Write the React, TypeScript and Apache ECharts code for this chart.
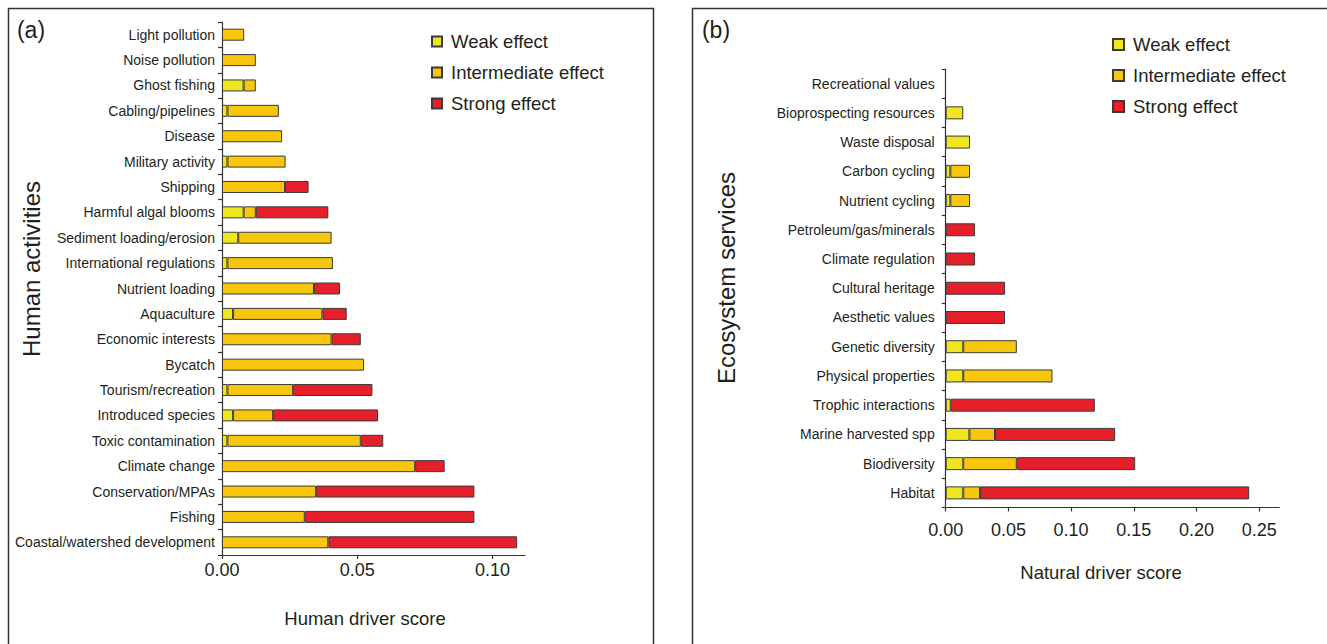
import React, { useEffect, useRef } from "react";
import * as echarts from "echarts";

const humanCategories = [
  "Light pollution", "Noise pollution", "Ghost fishing", "Cabling/pipelines", "Disease",
  "Military activity", "Shipping", "Harmful algal blooms", "Sediment loading/erosion",
  "International regulations", "Nutrient loading", "Aquaculture", "Economic interests",
  "Bycatch", "Tourism/recreation", "Introduced species", "Toxic contamination",
  "Climate change", "Conservation/MPAs", "Fishing", "Coastal/watershed development",
];
const humanWeak = [0, 0, 0.008, 0.002, 0, 0.002, 0, 0.008, 0.006, 0.002, 0, 0.0041, 0, 0, 0.002, 0.0041, 0.002, 0, 0, 0, 0];
const humanIntermediate = [0.0082, 0.0125, 0.0045, 0.019, 0.0222, 0.0215, 0.0233, 0.0045, 0.0345, 0.039, 0.034, 0.033, 0.0405, 0.0525, 0.0243, 0.0148, 0.0493, 0.0714, 0.0348, 0.0306, 0.0393];
const humanStrong = [0, 0, 0, 0, 0, 0, 0.0087, 0.0268, 0, 0, 0.0096, 0.009, 0.0108, 0, 0.0293, 0.0388, 0.0083, 0.0109, 0.0585, 0.0627, 0.0698];

const naturalCategories = [
  "Recreational values", "Bioprospecting resources", "Waste disposal", "Carbon cycling",
  "Nutrient cycling", "Petroleum/gas/minerals", "Climate regulation", "Cultural heritage",
  "Aesthetic values", "Genetic diversity", "Physical properties", "Trophic interactions",
  "Marine harvested spp", "Biodiversity", "Habitat",
];
const naturalWeak = [0, 0.014, 0.0194, 0.0037, 0.0037, 0, 0, 0, 0, 0.014, 0.014, 0.004, 0.0189, 0.014, 0.014];
const naturalIntermediate = [0, 0, 0, 0.0157, 0.0157, 0, 0, 0, 0, 0.0427, 0.0711, 0, 0.0204, 0.0427, 0.0134];
const naturalStrong = [0, 0, 0, 0, 0, 0.0234, 0.0234, 0.0473, 0.0473, 0, 0, 0.1149, 0.0958, 0.0944, 0.2146];

const humanTicks = [0, 0.05, 0.1];
const naturalTicks = [0, 0.05, 0.1, 0.15, 0.2, 0.25];

const effectNames = ["Weak effect", "Intermediate effect", "Strong effect"];
const effectColors = ["#EFE61E", "#F8C60C", "#E6202A"];

const FONT = "'Liberation Sans', Arial, Helvetica, sans-serif";
const TEXT = "#231f20";
const AXIS = "#333333";

export default function App() {
  const ref = useRef<HTMLDivElement>(null);

  useEffect(() => {
    if (!ref.current) return;
    const chart = echarts.init(ref.current, null, { renderer: "svg" });

    const clean = (arr: number[]) => arr.map((v) => (v === 0 ? null : v));
    const mkSeries = (vals: number[][], axisIdx: number, stack: string, width: number) =>
      vals.map((v, i) => ({
        name: effectNames[i],
        type: "bar",
        stack,
        xAxisIndex: axisIdx,
        yAxisIndex: axisIdx,
        barWidth: width,
        data: clean(v),
        itemStyle: { color: effectColors[i], borderColor: "#3a3a3a", borderWidth: 1 },
        emphasis: { disabled: true },
      }));

    const valueAxis = (idx: number, max: number, ticks: number[], margin: number) => ({
      type: "value",
      gridIndex: idx,
      min: 0,
      max,
      splitLine: { show: false },
      axisLine: { show: true, lineStyle: { color: AXIS, width: 1.2 } },
      axisTick: { show: true, length: 4, lineStyle: { color: AXIS, width: 1.2 }, customValues: ticks },
      axisLabel: {
        customValues: ticks,
        formatter: (v: number) => v.toFixed(2),
        fontSize: 18,
        fontFamily: FONT,
        color: TEXT,
        margin,
      },
    });

    const catAxis = (idx: number, data: string[], margin: number) => ({
      type: "category",
      gridIndex: idx,
      data,
      inverse: true,
      axisLine: { show: true, lineStyle: { color: AXIS, width: 1.2 } },
      axisTick: { show: true, length: 4, lineStyle: { color: AXIS, width: 1.2 } },
      axisLabel: { fontSize: 14, fontFamily: FONT, color: TEXT, margin },
    });

    const legend = (left: number, top: number, size: number) => ({
      orient: "vertical",
      left,
      top,
      itemWidth: size,
      itemHeight: size,
      itemGap: 11,
      icon: "rect",
      selectedMode: false,
      data: effectNames,
      textStyle: { fontSize: 18.5, fontFamily: FONT, color: TEXT, lineHeight: 20, padding: [0, 0, 0, 4] },
    });

    const txt = (text: string, x: number, y: number, size: number, rotation = 0) => ({
      type: "text",
      x,
      y,
      rotation,
      style: {
        text,
        fontSize: size,
        fontFamily: FONT,
        fill: TEXT,
        align: "center",
        verticalAlign: "middle",
      },
    });

    chart.setOption({
      animation: false,
      backgroundColor: "#ffffff",
      grid: [
        { left: 222, top: 22, width: 303, height: 533 },
        { left: 945.7, top: 69, width: 333.6, height: 438.5 },
      ],
      xAxis: [valueAxis(0, 0.112, humanTicks, 6), valueAxis(1, 0.266, naturalTicks, 13)],
      yAxis: [catAxis(0, humanCategories, 7), catAxis(1, naturalCategories, 11)],
      legend: [legend(426, 26.5, 10), legend(1107, 29.5, 11)],
      series: [
        ...mkSeries([humanWeak, humanIntermediate, humanStrong], 0, "human", 12),
        ...mkSeries([naturalWeak, naturalIntermediate, naturalStrong], 1, "natural", 13),
      ],
      graphic: [
        {
          type: "rect",
          shape: { x: 8.5, y: 8.5, width: 645, height: 700 },
          style: { fill: "none", stroke: "#333", lineWidth: 1.5 },
          silent: true,
        },
        {
          type: "rect",
          shape: { x: 692.5, y: 8.5, width: 700, height: 700 },
          style: { fill: "none", stroke: "#333", lineWidth: 1.5 },
          silent: true,
        },
        { ...txt("(a)", 31, 30, 23) },
        { ...txt("(b)", 716, 30, 23) },
        { ...txt("Human activities", 31, 269, 24, Math.PI / 2) },
        { ...txt("Ecosystem services", 726, 278, 24, Math.PI / 2) },
        { ...txt("Human driver score", 365, 618, 18.5) },
        { ...txt("Natural driver score", 1101, 572.5, 18.5) },
      ],
    });

    return () => chart.dispose();
  }, []);

  return (
    <div
      ref={ref}
      style={{ position: "fixed", left: 0, top: 0, width: 1327, height: 644, background: "#fff" }}
    />
  );
}
